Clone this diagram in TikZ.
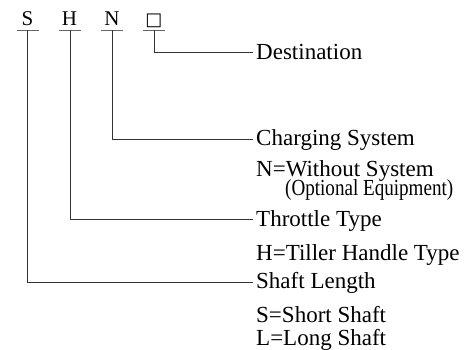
\documentclass[tikz,border=0pt]{standalone}
\usepackage{fontspec}
\setmainfont{Liberation Serif}
\newfontfamily\symfont{DejaVu Sans}
\begin{document}
\begin{tikzpicture}[x=1pt,y=-1pt,
  lbl/.style={anchor=base west,inner sep=0pt,font=\fontsize{23}{27}\selectfont},
  code/.style={anchor=base,inner sep=0pt,font=\fontsize{21}{25}\selectfont},
  link/.style={draw=black!80,line width=0.9pt},
  bar/.style={draw=black!60,line width=0.9pt}]
\useasboundingbox (0,0) rectangle (465,349);
% code letters
\node[code] (cs) at (27.5,25) {S};
\node[code] (ch) at (69.5,25) {H};
\node[code] (cn) at (112,25) {N};
\node[code,font=\symfont\fontsize{18}{21}\selectfont] (cd) at (154,25.5) {□};
% underline bars
\coordinate (bs) at (27.5,30);
\coordinate (bh) at (70,30);
\coordinate (bn) at (112,30);
\coordinate (bd) at (154,30);
\foreach \b in {bs,bh,bn,bd}
  \draw[bar] ([xshift=-11pt]\b) -- ([xshift=11pt]\b);
% labels
\node[lbl] (dest) at (256,59) {Destination};
\node[lbl] (chg) at (256,145.5) {Charging System};
\node[lbl,text depth=0pt] (chgN) at (256,176) {N=Without System};
\node[lbl,xscale=0.83,text height=12pt] (opt) at (285,195.5) {(Optional Equipment)};
\node[lbl] (thr) at (256,226) {Throttle Type};
\node[lbl] (thrH) at (256,260) {H=Tiller Handle Type};
\node[lbl] (sft) at (256,288.5) {Shaft Length};
\node[lbl] (sftS) at (256,322) {S=Short Shaft};
\node[lbl] (sftL) at (256,345) {L=Long Shaft};
% connectors
\draw[link] (bd) |- ([xshift=-3pt,yshift=7pt]dest.base west);
\draw[link] (bn) |- ([xshift=-3pt,yshift=6.5pt]chg.base west);
\draw[link] (bh) |- ([xshift=-3pt,yshift=6.5pt]thr.base west);
\draw[link] (bs) |- ([xshift=-3pt,yshift=6.5pt]sft.base west);
\end{tikzpicture}
\end{document}
